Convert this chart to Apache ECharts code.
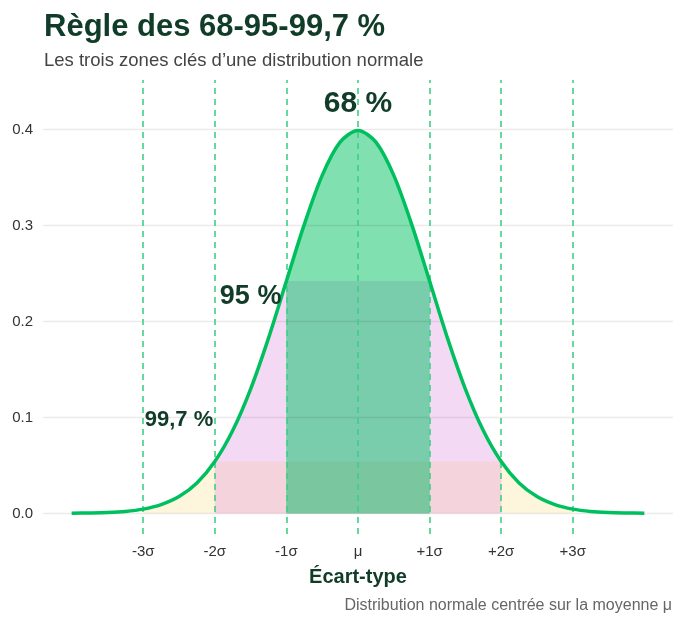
<!DOCTYPE html>
<html>
<head>
<meta charset="utf-8">
<script src="https://cdn.jsdelivr.net/npm/echarts@6.0.0/dist/echarts.min.js"></script>
<style>
  html, body { margin: 0; padding: 0; background: #ffffff; }
  #chart { width: 684px; height: 622px; }
</style>
</head>
<body>
<div id="chart"></div>
<script>
// densité (pas de 0.25 sigma)
var curveX = [-4, -3.75, -3.5, -3.25, -3, -2.75, -2.5, -2.25, -2, -1.75, -1.5, -1.25, -1, -0.75, -0.5, -0.25, 0,
  0.25, 0.5, 0.75, 1, 1.25, 1.5, 1.75, 2, 2.25, 2.5, 2.75, 3, 3.25, 3.5, 3.75, 4];
var curveY = [0.0001, 0.0004, 0.0009, 0.0020, 0.0044, 0.0091, 0.0175, 0.0317, 0.0540, 0.0863, 0.1295, 0.1826, 0.2420, 0.3011, 0.3521, 0.3867, 0.3989,
  0.3867, 0.3521, 0.3011, 0.2420, 0.1826, 0.1295, 0.0863, 0.0540, 0.0317, 0.0175, 0.0091, 0.0044, 0.0020, 0.0009, 0.0004, 0.0001];

var sigmaTicks = [-3, -2, -1, 0, 1, 2, 3];
var sigmaLabels = ['-3σ', '-2σ', '-1σ', 'μ', '+1σ', '+2σ', '+3σ'];
var yTicks = [0, 0.1, 0.2, 0.3, 0.4];

// zones : 99,7 %, 95 %, 68 %
var zoneSigma = [3, 2, 1];
var zoneColors = ['#fdf5dc', '#f3d9f3', '#80e0b0'];
// bandes rectangulaires (largeur en sigma, hauteur)
var bandSigma = [2, 1, 1];
var bandHeight = [0.054, 0.242, 0.054];
var bandColors = ['#f5d3dc', '#79cdac', '#7ac79f'];

var zoneText = ['68 %', '95 %', '99,7 %'];
var zoneTextX = [0, -1.5, -2.5];
var zoneTextY = [0.427, 0.226, 0.097];
var zoneTextSize = [30, 27, 22];

var ink = '#103c28';
var font = 'Liberation Sans';

var chart = echarts.init(document.getElementById('chart'));

function zonePoints(s) {
  var pts = [];
  for (var i = 0; i < curveX.length; i++) {
    if (curveX[i] >= -s && curveX[i] <= s) pts.push([curveX[i], curveY[i]]);
  }
  return pts;
}

var series = [];
zoneSigma.forEach(function (s, i) {
  series.push({
    type: 'line', data: zonePoints(s), smooth: 0.3, symbol: 'none',
    lineStyle: { width: 0 }, areaStyle: { color: zoneColors[i], opacity: 1 },
    z: 2, silent: true
  });
});
bandSigma.forEach(function (s, i) {
  series.push({
    type: 'line', data: [[-s, bandHeight[i]], [s, bandHeight[i]]], symbol: 'none',
    lineStyle: { width: 0 }, areaStyle: { color: bandColors[i], opacity: 1 },
    z: 2, silent: true
  });
});
// quadrillage horizontal par-dessus les aplats
series.push({
  type: 'line', data: [], z: 3, silent: true,
  markLine: {
    z: 3, silent: true, symbol: 'none', label: { show: false },
    lineStyle: { color: 'rgba(0,0,0,0.08)', width: 1.3, type: 'solid' },
    data: yTicks.map(function (v) { return { yAxis: v }; })
  }
});
// lignes sigma pointillées
series.push({
  type: 'line', data: [], z: 4, silent: true,
  markLine: {
    z: 4, silent: true, symbol: 'none', label: { show: false },
    lineStyle: { color: '#3fcf86', width: 1.6, type: [6, 5] },
    data: sigmaTicks.map(function (v) { return { xAxis: v }; })
  }
});
// courbe
series.push({
  type: 'line', data: curveX.map(function (x, i) { return [x, curveY[i]]; }),
  smooth: 0.3, symbol: 'none', z: 10, silent: true,
  lineStyle: { color: '#00bf5f', width: 3.5 }
});
// étiquettes des zones
series.push({
  type: 'scatter', symbolSize: 0, z: 11, silent: true,
  itemStyle: { opacity: 1 },
  data: zoneText.map(function (t, i) {
    return {
      value: [zoneTextX[i], zoneTextY[i]],
      label: {
        show: true, position: 'inside', formatter: t, opacity: 1,
        fontFamily: font, fontWeight: 'bold', fontSize: zoneTextSize[i], color: ink
      }
    };
  })
});

chart.setOption({
  animation: false,
  backgroundColor: '#ffffff',
  title: [{
    text: 'Règle des 68-95-99,7 %',
    subtext: 'Les trois zones clés d’une distribution normale',
    left: 39, top: 7, itemGap: 8,
    textStyle: { fontFamily: font, fontWeight: 'bold', fontSize: 31, color: ink },
    subtextStyle: { fontFamily: font, fontSize: 18.5, color: '#444444' }
  }, {
    text: 'Distribution normale centrée sur la moyenne μ',
    right: 7, bottom: 3,
    textStyle: { fontFamily: font, fontWeight: 'normal', fontSize: 16, color: '#666666' }
  }],
  grid: { left: 43, right: 11, top: 80, bottom: 88 },
  xAxis: {
    type: 'value', min: -4.4, max: 4.4,
    name: 'Écart-type', nameLocation: 'middle', nameGap: 33,
    nameTextStyle: { fontFamily: font, fontWeight: 'bold', fontSize: 20, color: ink },
    axisLine: { show: false }, axisTick: { show: false }, splitLine: { show: false },
    axisLabel: {
      customValues: sigmaTicks, margin: 10,
      fontFamily: font, fontSize: 15, color: '#333333',
      formatter: function (v) { return sigmaLabels[sigmaTicks.indexOf(Math.round(v))]; }
    }
  },
  yAxis: {
    type: 'value', min: -0.0215, max: 0.4515,
    axisLine: { show: false }, axisTick: { show: false }, splitLine: { show: false },
    axisLabel: {
      customValues: yTicks, margin: 10,
      fontFamily: font, fontSize: 15, color: '#333333',
      formatter: function (v) { return v.toFixed(1); }
    }
  },
  series: series
});
</script>
</body>
</html>
